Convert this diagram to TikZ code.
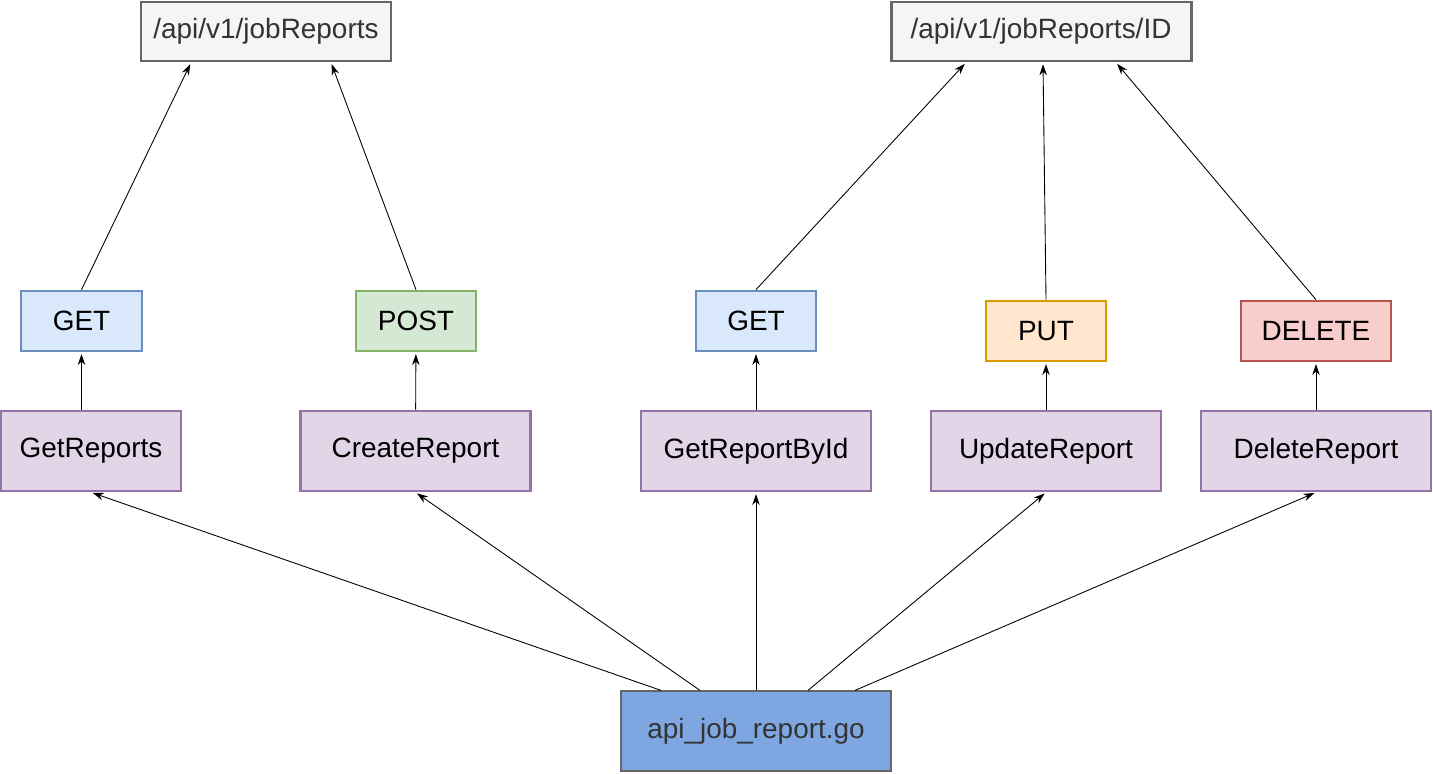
\documentclass[tikz,border=0pt]{standalone}
\usepackage{fontspec}
\setmainfont{Liberation Sans}
\usepackage{tikz}
\usetikzlibrary{arrows.meta,positioning,calc}
\definecolor{getfill}{HTML}{DAE8FC}\definecolor{getline}{HTML}{6C8EBF}
\definecolor{postfill}{HTML}{D5E8D4}\definecolor{postline}{HTML}{82B366}
\definecolor{putfill}{HTML}{FFE6CC}\definecolor{putline}{HTML}{D79B00}
\definecolor{delfill}{HTML}{F8CECC}\definecolor{delline}{HTML}{B85450}
\definecolor{fnfill}{HTML}{E1D5E7}\definecolor{fnline}{HTML}{9673A6}
\definecolor{urlfill}{HTML}{F5F5F5}\definecolor{urlline}{HTML}{666666}
\definecolor{gofill}{HTML}{7EA6E0}\definecolor{txtgray}{HTML}{333333}
\tikzset{box/.style={draw,line width=1.5pt,align=center,inner sep=0pt,font=\fontsize{15.9}{19}\selectfont},
 url/.style={box,draw=urlline,fill=urlfill,text=txtgray,line width=1.7pt,minimum height=1.18cm},
 verb/.style={box,minimum height=1.2cm,minimum width=2.4cm},
 func/.style={box,draw=fnline,fill=fnfill,minimum height=1.6cm,minimum width=4.6cm},
 arrow/.style={-{Stealth[length=2.2mm,width=1.5mm]},line width=0.5pt,shorten >=1pt}}
\begin{document}
\begin{tikzpicture}
\useasboundingbox (0,0) rectangle (28.66,15.46);
\node[url,minimum width=5cm] (ep) at (5.32,14.83) {/api/v1/jobReports};
\node[url,minimum width=6cm] (epid) at (20.82,14.83) {/api/v1/jobReports/ID};
\node[verb,draw=getline,fill=getfill,minimum width=2.42cm] (get) at (1.63,9.04) {GET};
\node[verb,draw=postline,fill=postfill] (post) at (8.32,9.04) {POST};
\node[verb,draw=getline,fill=getfill] (getid) at (15.12,9.04) {GET};
\node[verb,draw=putline,fill=putfill] (put) at (20.92,8.84) {PUT};
\node[verb,draw=delline,fill=delfill,minimum width=3cm] (del) at (26.32,8.84) {DELETE};
\node[func,minimum width=3.6cm] (getrep) at (1.82,6.44) {GetReports};
\node[func] (create) at (8.31,6.44) {CreateReport};
\node[func] (byid) at (15.12,6.44) {GetReportById};
\node[func] (update) at (20.92,6.44) {UpdateReport};
\node[func] (delrep) at (26.32,6.44) {DeleteReport};
\node[box,draw=urlline,fill=gofill,text=txtgray,line width=0.7pt,minimum width=5.4cm,minimum height=1.6cm] (src) at (15.12,0.84) {api\_job\_report.go};

\draw[arrow] ([xshift=-1.9cm]src.north)--(getrep.south);
\draw[arrow] ([xshift=-1.12cm]src.north)--(create.south);
\draw[arrow] (src)--(byid);
\draw[arrow] ([xshift=1.04cm]src.north)--(update.south);
\draw[arrow] ([xshift=1.98cm]src.north)--(delrep.south);
\draw[arrow] (get.south |- getrep.north)--(get);
\draw[arrow] (create)--(post);
\draw[arrow] (byid)--(getid);
\draw[arrow] (update)--(put);
\draw[arrow] (delrep)--(del);
\draw[arrow] (get.north)--([xshift=-1.5cm]ep.south);
\draw[arrow] (post.north)--([xshift=1.3cm]ep.south);
\draw[arrow] (getid.north)--([xshift=-1.5cm]epid.south);
\draw[arrow] (put.north)--([xshift=0.04cm]epid.south);
\draw[arrow] (del.north)--([xshift=1.5cm]epid.south);
\end{tikzpicture}
\end{document}
